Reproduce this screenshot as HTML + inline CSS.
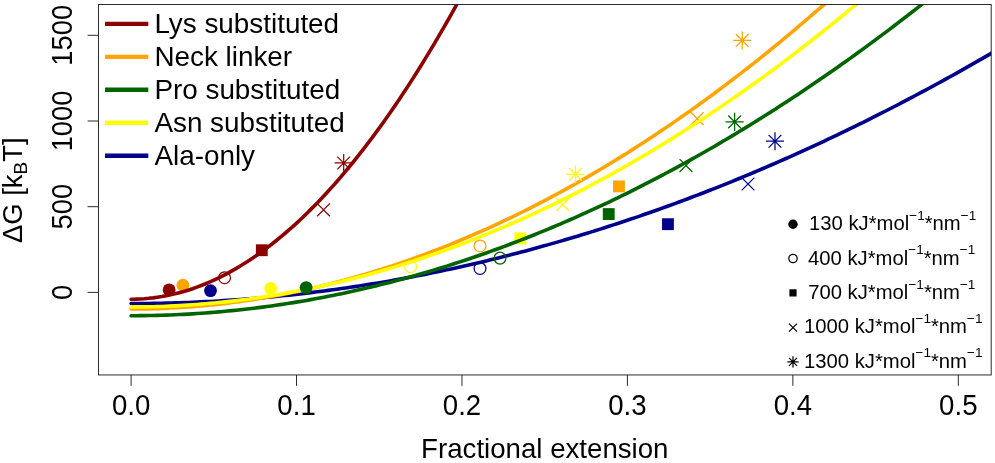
<!DOCTYPE html>
<html><head><meta charset="utf-8"><title>Chart</title>
<style>
html,body{margin:0;padding:0;background:#fff;}
svg{display:block;}
text{font-family:"Liberation Sans",sans-serif;fill:#000;}
.t{opacity:0.999;}
</style></head>
<body>
<svg width="995" height="463" viewBox="0 0 995 463">
<rect width="995" height="463" fill="#fff"/>
<defs><clipPath id="clip"><rect x="98.5" y="4.5" width="892.7" height="370.45"/></clipPath></defs>
<g clip-path="url(#clip)">
<circle cx="210.51" cy="290.60" r="6.4" fill="#00008B"/>
<circle cx="480.01" cy="268.40" r="5.9" fill="none" stroke="#00008B" stroke-width="1.25"/>
<rect x="662.03" y="218.26" width="11.84" height="11.84" fill="#00008B"/>
<path d="M741.63,177.59L754.43,190.39M741.63,190.39L754.43,177.59" stroke="#00008B" stroke-width="1.25" fill="none"/>
<path d="M768.59,134.83L781.39,147.63M768.59,147.63L781.39,134.83M765.94,141.23L784.04,141.23M774.99,132.18L774.99,150.27" stroke="#00008B" stroke-width="1.25" fill="none"/>
<path d="M131.10,303.54 L135.48,303.53 L139.87,303.52 L144.25,303.48 L148.64,303.44 L153.02,303.38 L157.40,303.31 L161.79,303.22 L166.17,303.13 L170.56,303.01 L174.94,302.89 L179.33,302.75 L183.71,302.61 L188.09,302.44 L192.48,302.27 L196.86,302.08 L201.25,301.88 L205.63,301.66 L210.01,301.44 L214.40,301.19 L218.78,300.94 L223.17,300.67 L227.55,300.40 L231.94,300.10 L236.32,299.80 L240.70,299.48 L245.09,299.15 L249.47,298.80 L253.86,298.45 L258.24,298.07 L262.62,297.69 L267.01,297.29 L271.39,296.89 L275.78,296.46 L280.16,296.03 L284.55,295.58 L288.93,295.12 L293.31,294.64 L297.70,294.16 L302.08,293.65 L306.47,293.14 L310.85,292.61 L315.23,292.08 L319.62,291.52 L324.00,290.96 L328.39,290.38 L332.77,289.79 L337.16,289.18 L341.54,288.57 L345.92,287.94 L350.31,287.29 L354.69,286.64 L359.08,285.97 L363.46,285.28 L367.84,284.59 L372.23,283.88 L376.61,283.16 L381.00,282.42 L385.38,281.68 L389.77,280.92 L394.15,280.14 L398.53,279.36 L402.92,278.56 L407.30,277.74 L411.69,276.92 L416.07,276.08 L420.45,275.23 L424.84,274.36 L429.22,273.49 L433.61,272.60 L437.99,271.69 L442.38,270.78 L446.76,269.85 L451.14,268.90 L455.53,267.95 L459.91,266.98 L464.30,266.00 L468.68,265.00 L473.06,264.00 L477.45,262.98 L481.83,261.94 L486.22,260.90 L490.60,259.84 L494.99,258.76 L499.37,257.68 L503.75,256.58 L508.14,255.47 L512.52,254.34 L516.91,253.21 L521.29,252.06 L525.67,250.89 L530.06,249.72 L534.44,248.53 L538.83,247.32 L543.21,246.11 L547.60,244.88 L551.98,243.64 L556.36,242.38 L560.75,241.12 L565.13,239.84 L569.52,238.54 L573.90,237.24 L578.28,235.92 L582.67,234.59 L587.05,233.24 L591.44,231.88 L595.82,230.51 L600.21,229.13 L604.59,227.73 L608.97,226.32 L613.36,224.89 L617.74,223.46 L622.13,222.01 L626.51,220.55 L630.89,219.07 L635.28,217.58 L639.66,216.08 L644.05,214.57 L648.43,213.04 L652.82,211.50 L657.20,209.94 L661.58,208.38 L665.97,206.80 L670.35,205.21 L674.74,203.60 L679.12,201.98 L683.50,200.35 L687.89,198.71 L692.27,197.05 L696.66,195.38 L701.04,193.70 L705.42,192.00 L709.81,190.29 L714.19,188.57 L718.58,186.83 L722.96,185.08 L727.35,183.32 L731.73,181.55 L736.11,179.76 L740.50,177.96 L744.88,176.15 L749.27,174.32 L753.65,172.48 L758.03,170.63 L762.42,168.76 L766.80,166.88 L771.19,164.99 L775.57,163.09 L779.96,161.17 L784.34,159.24 L788.72,157.30 L793.11,155.34 L797.49,153.37 L801.88,151.39 L806.26,149.39 L810.64,147.38 L815.03,145.36 L819.41,143.33 L823.80,141.28 L828.18,139.22 L832.57,137.15 L836.95,135.06 L841.33,132.96 L845.72,130.85 L850.10,128.72 L854.49,126.59 L858.87,124.43 L863.25,122.27 L867.64,120.09 L872.02,117.90 L876.41,115.70 L880.79,113.48 L885.18,111.25 L889.56,109.01 L893.94,106.75 L898.33,104.49 L902.71,102.20 L907.10,99.91 L911.48,97.60 L915.86,95.28 L920.25,92.95 L924.63,90.60 L929.02,88.24 L933.40,85.87 L937.79,83.49 L942.17,81.09 L946.55,78.68 L950.94,76.25 L955.32,73.81 L959.71,71.36 L964.09,68.90 L968.47,66.42 L972.86,63.93 L977.24,61.43 L981.63,58.92 L986.01,56.39 L990.40,53.85 L994.78,51.29 L999.16,48.72 L1003.55,46.14 L1007.93,43.55" fill="none" stroke="#00008B" stroke-width="3.6" stroke-linecap="round" stroke-linejoin="round"/>
<circle cx="182.88" cy="285.20" r="6.4" fill="#FFA500"/>
<circle cx="480.01" cy="245.95" r="5.9" fill="none" stroke="#FFA500" stroke-width="1.25"/>
<rect x="613.06" y="180.47" width="11.84" height="11.84" fill="#FFA500"/>
<path d="M690.84,112.20L703.64,125.00M690.84,125.00L703.64,112.20" stroke="#FFA500" stroke-width="1.25" fill="none"/>
<path d="M735.84,34.04L748.64,46.84M735.84,46.84L748.64,34.04M733.19,40.44L751.28,40.44M742.24,31.39L742.24,49.49" stroke="#FFA500" stroke-width="1.25" fill="none"/>
<path d="M131.10,309.03 L135.48,309.01 L139.87,308.98 L144.25,308.92 L148.64,308.83 L153.02,308.72 L157.40,308.59 L161.79,308.43 L166.17,308.25 L170.56,308.04 L174.94,307.81 L179.33,307.55 L183.71,307.27 L188.09,306.97 L192.48,306.64 L196.86,306.28 L201.25,305.91 L205.63,305.50 L210.01,305.08 L214.40,304.63 L218.78,304.15 L223.17,303.65 L227.55,303.13 L231.94,302.58 L236.32,302.01 L240.70,301.41 L245.09,300.79 L249.47,300.14 L253.86,299.47 L258.24,298.78 L262.62,298.06 L267.01,297.31 L271.39,296.55 L275.78,295.75 L280.16,294.94 L284.55,294.10 L288.93,293.23 L293.31,292.34 L297.70,291.43 L302.08,290.49 L306.47,289.53 L310.85,288.54 L315.23,287.53 L319.62,286.49 L324.00,285.43 L328.39,284.35 L332.77,283.24 L337.16,282.10 L341.54,280.95 L345.92,279.76 L350.31,278.56 L354.69,277.33 L359.08,276.07 L363.46,274.79 L367.84,273.49 L372.23,272.16 L376.61,270.81 L381.00,269.43 L385.38,268.03 L389.77,266.60 L394.15,265.15 L398.53,263.68 L402.92,262.18 L407.30,260.66 L411.69,259.11 L416.07,257.54 L420.45,255.94 L424.84,254.32 L429.22,252.67 L433.61,251.00 L437.99,249.31 L442.38,247.59 L446.76,245.85 L451.14,244.08 L455.53,242.29 L459.91,240.47 L464.30,238.63 L468.68,236.77 L473.06,234.88 L477.45,232.97 L481.83,231.03 L486.22,229.07 L490.60,227.08 L494.99,225.07 L499.37,223.03 L503.75,220.97 L508.14,218.89 L512.52,216.78 L516.91,214.65 L521.29,212.49 L525.67,210.31 L530.06,208.11 L534.44,205.87 L538.83,203.62 L543.21,201.34 L547.60,199.04 L551.98,196.71 L556.36,194.36 L560.75,191.98 L565.13,189.58 L569.52,187.16 L573.90,184.71 L578.28,182.23 L582.67,179.73 L587.05,177.21 L591.44,174.66 L595.82,172.09 L600.21,169.50 L604.59,166.88 L608.97,164.23 L613.36,161.56 L617.74,158.87 L622.13,156.15 L626.51,153.41 L630.89,150.64 L635.28,147.85 L639.66,145.04 L644.05,142.20 L648.43,139.33 L652.82,136.45 L657.20,133.53 L661.58,130.60 L665.97,127.63 L670.35,124.65 L674.74,121.64 L679.12,118.60 L683.50,115.54 L687.89,112.46 L692.27,109.35 L696.66,106.22 L701.04,103.07 L705.42,99.88 L709.81,96.68 L714.19,93.45 L718.58,90.20 L722.96,86.92 L727.35,83.61 L731.73,80.29 L736.11,76.94 L740.50,73.56 L744.88,70.16 L749.27,66.74 L753.65,63.29 L758.03,59.81 L762.42,56.32 L766.80,52.79 L771.19,49.25 L775.57,45.68 L779.96,42.08 L784.34,38.46 L788.72,34.82 L793.11,31.15 L797.49,27.46 L801.88,23.74 L806.26,20.00 L810.64,16.23 L815.03,12.44 L819.41,8.63 L823.80,4.79 L828.18,0.93 L832.57,-2.96 L836.95,-6.87 L841.33,-10.81 L845.72,-14.77 L850.10,-18.76 L854.49,-22.77 L858.87,-26.80 L863.25,-30.86 L867.64,-34.94 L872.02,-39.05 L876.41,-43.18 L880.79,-47.33 L885.18,-51.52 L889.56,-55.72 L893.94,-59.95 L898.33,-64.20 L902.71,-68.48 L907.10,-72.78 L911.48,-77.11 L915.86,-81.46 L920.25,-85.83 L924.63,-90.23 L929.02,-94.66 L933.40,-99.11 L937.79,-103.58 L942.17,-108.08 L946.55,-112.60 L950.94,-117.14 L955.32,-121.71 L959.71,-126.31 L964.09,-130.93 L968.47,-135.57 L972.86,-140.24 L977.24,-144.93 L981.63,-149.64 L986.01,-154.39 L990.40,-159.15 L994.78,-163.94 L999.16,-168.75 L1003.55,-173.59 L1007.93,-178.46" fill="none" stroke="#FFA500" stroke-width="3.6" stroke-linecap="round" stroke-linejoin="round"/>
<circle cx="270.73" cy="288.46" r="6.4" fill="#FFFF00"/>
<circle cx="410.69" cy="266.69" r="5.9" fill="none" stroke="#FFFF00" stroke-width="1.25"/>
<rect x="514.46" y="232.49" width="11.84" height="11.84" fill="#FFFF00"/>
<path d="M556.33,198.24L569.13,211.04M556.33,211.04L569.13,198.24" stroke="#FFFF00" stroke-width="1.25" fill="none"/>
<path d="M569.07,167.91L581.87,180.71M569.07,180.71L581.87,167.91M566.42,174.31L584.52,174.31M575.47,165.26L575.47,183.35" stroke="#FFFF00" stroke-width="1.25" fill="none"/>
<path d="M131.10,306.97 L135.48,306.96 L139.87,306.92 L144.25,306.87 L148.64,306.79 L153.02,306.69 L157.40,306.57 L161.79,306.43 L166.17,306.26 L170.56,306.07 L174.94,305.86 L179.33,305.63 L183.71,305.38 L188.09,305.10 L192.48,304.80 L196.86,304.48 L201.25,304.14 L205.63,303.77 L210.01,303.39 L214.40,302.98 L218.78,302.54 L223.17,302.09 L227.55,301.62 L231.94,301.12 L236.32,300.60 L240.70,300.06 L245.09,299.49 L249.47,298.91 L253.86,298.30 L258.24,297.67 L262.62,297.01 L267.01,296.34 L271.39,295.64 L275.78,294.92 L280.16,294.18 L284.55,293.42 L288.93,292.63 L293.31,291.83 L297.70,291.00 L302.08,290.14 L306.47,289.27 L310.85,288.37 L315.23,287.46 L319.62,286.52 L324.00,285.55 L328.39,284.57 L332.77,283.56 L337.16,282.53 L341.54,281.48 L345.92,280.41 L350.31,279.31 L354.69,278.20 L359.08,277.06 L363.46,275.90 L367.84,274.71 L372.23,273.51 L376.61,272.28 L381.00,271.03 L385.38,269.76 L389.77,268.46 L394.15,267.15 L398.53,265.81 L402.92,264.45 L407.30,263.07 L411.69,261.66 L416.07,260.23 L420.45,258.78 L424.84,257.31 L429.22,255.82 L433.61,254.30 L437.99,252.77 L442.38,251.21 L446.76,249.63 L451.14,248.02 L455.53,246.40 L459.91,244.75 L464.30,243.08 L468.68,241.38 L473.06,239.67 L477.45,237.93 L481.83,236.17 L486.22,234.39 L490.60,232.59 L494.99,230.77 L499.37,228.92 L503.75,227.05 L508.14,225.16 L512.52,223.24 L516.91,221.31 L521.29,219.35 L525.67,217.37 L530.06,215.37 L534.44,213.34 L538.83,211.30 L543.21,209.23 L547.60,207.14 L551.98,205.03 L556.36,202.89 L560.75,200.73 L565.13,198.55 L569.52,196.35 L573.90,194.13 L578.28,191.88 L582.67,189.62 L587.05,187.33 L591.44,185.01 L595.82,182.68 L600.21,180.32 L604.59,177.95 L608.97,175.55 L613.36,173.12 L617.74,170.68 L622.13,168.21 L626.51,165.72 L630.89,163.21 L635.28,160.68 L639.66,158.12 L644.05,155.55 L648.43,152.95 L652.82,150.33 L657.20,147.68 L661.58,145.02 L665.97,142.33 L670.35,139.62 L674.74,136.89 L679.12,134.13 L683.50,131.35 L687.89,128.56 L692.27,125.74 L696.66,122.89 L701.04,120.03 L705.42,117.14 L709.81,114.23 L714.19,111.30 L718.58,108.35 L722.96,105.37 L727.35,102.37 L731.73,99.35 L736.11,96.31 L740.50,93.25 L744.88,90.16 L749.27,87.05 L753.65,83.92 L758.03,80.77 L762.42,77.60 L766.80,74.40 L771.19,71.18 L775.57,67.94 L779.96,64.68 L784.34,61.39 L788.72,58.08 L793.11,54.75 L797.49,51.40 L801.88,48.03 L806.26,44.63 L810.64,41.21 L815.03,37.77 L819.41,34.31 L823.80,30.83 L828.18,27.32 L832.57,23.79 L836.95,20.24 L841.33,16.67 L845.72,13.07 L850.10,9.46 L854.49,5.82 L858.87,2.16 L863.25,-1.53 L867.64,-5.23 L872.02,-8.96 L876.41,-12.71 L880.79,-16.48 L885.18,-20.28 L889.56,-24.09 L893.94,-27.93 L898.33,-31.79 L902.71,-35.68 L907.10,-39.58 L911.48,-43.51 L915.86,-47.46 L920.25,-51.43 L924.63,-55.42 L929.02,-59.44 L933.40,-63.47 L937.79,-67.53 L942.17,-71.61 L946.55,-75.72 L950.94,-79.84 L955.32,-83.99 L959.71,-88.16 L964.09,-92.35 L968.47,-96.57 L972.86,-100.81 L977.24,-105.06 L981.63,-109.35 L986.01,-113.65 L990.40,-117.97 L994.78,-122.32 L999.16,-126.69 L1003.55,-131.08 L1007.93,-135.50" fill="none" stroke="#FFFF00" stroke-width="3.6" stroke-linecap="round" stroke-linejoin="round"/>
<circle cx="169.15" cy="289.90" r="6.4" fill="#8B0000"/>
<circle cx="224.57" cy="277.66" r="5.9" fill="none" stroke="#8B0000" stroke-width="1.25"/>
<rect x="255.88" y="244.32" width="11.84" height="11.84" fill="#8B0000"/>
<path d="M317.11,203.39L329.91,216.19M317.11,216.19L329.91,203.39" stroke="#8B0000" stroke-width="1.25" fill="none"/>
<path d="M337.29,156.59L350.09,169.39M337.29,169.39L350.09,156.59M334.64,162.99L352.74,162.99M343.69,153.94L343.69,172.04" stroke="#8B0000" stroke-width="1.25" fill="none"/>
<path d="M131.10,299.19 L135.48,299.13 L139.87,298.97 L144.25,298.71 L148.64,298.33 L153.02,297.85 L157.40,297.26 L161.79,296.57 L166.17,295.77 L170.56,294.86 L174.94,293.85 L179.33,292.72 L183.71,291.50 L188.09,290.16 L192.48,288.72 L196.86,287.17 L201.25,285.51 L205.63,283.75 L210.01,281.88 L214.40,279.90 L218.78,277.82 L223.17,275.63 L227.55,273.33 L231.94,270.93 L236.32,268.42 L240.70,265.80 L245.09,263.08 L249.47,260.25 L253.86,257.31 L258.24,254.26 L262.62,251.11 L267.01,247.85 L271.39,244.49 L275.78,241.01 L280.16,237.44 L284.55,233.75 L288.93,229.96 L293.31,226.06 L297.70,222.05 L302.08,217.94 L306.47,213.72 L310.85,209.39 L315.23,204.96 L319.62,200.42 L324.00,195.77 L328.39,191.02 L332.77,186.15 L337.16,181.19 L341.54,176.11 L345.92,170.93 L350.31,165.64 L354.69,160.25 L359.08,154.74 L363.46,149.14 L367.84,143.42 L372.23,137.60 L376.61,131.67 L381.00,125.63 L385.38,119.49 L389.77,113.24 L394.15,106.88 L398.53,100.42 L402.92,93.85 L407.30,87.17 L411.69,80.39 L416.07,73.50 L420.45,66.50 L424.84,59.39 L429.22,52.18 L433.61,44.86 L437.99,37.44 L442.38,29.91 L446.76,22.27 L451.14,14.52 L455.53,6.67 L459.91,-1.29 L464.30,-9.36 L468.68,-17.53 L473.06,-25.81 L477.45,-34.20 L481.83,-42.69 L486.22,-51.29 L490.60,-60.00 L494.99,-68.81 L499.37,-77.73 L503.75,-86.76 L508.14,-95.89 L512.52,-105.14 L516.91,-114.48 L521.29,-123.94 L525.67,-133.50 L530.06,-143.17 L534.44,-152.94 L538.83,-162.83 L543.21,-172.82 L547.60,-182.91 L551.98,-193.12 L556.36,-203.43 L560.75,-213.84 L565.13,-224.37 L569.52,-235.00 L573.90,-245.73 L578.28,-256.58 L582.67,-267.53 L587.05,-278.58 L591.44,-289.75 L595.82,-301.02 L600.21,-312.40 L604.59,-323.88 L608.97,-335.48 L613.36,-347.17 L617.74,-358.98 L622.13,-370.89 L626.51,-382.91 L630.89,-395.04 L635.28,-407.27 L639.66,-419.61 L644.05,-432.06 L648.43,-444.61 L652.82,-457.27 L657.20,-470.04 L661.58,-482.91 L665.97,-495.89 L670.35,-508.98 L674.74,-522.17 L679.12,-535.47 L683.50,-548.88 L687.89,-562.40 L692.27,-576.02 L696.66,-589.75 L701.04,-603.58 L705.42,-617.52 L709.81,-631.57 L714.19,-645.73 L718.58,-659.99 L722.96,-674.36 L727.35,-688.84 L731.73,-703.42 L736.11,-718.11 L740.50,-732.91 L744.88,-747.81 L749.27,-762.82 L753.65,-777.94 L758.03,-793.16 L762.42,-808.49 L766.80,-823.93 L771.19,-839.48 L775.57,-855.13 L779.96,-870.89 L784.34,-886.75 L788.72,-902.72 L793.11,-918.80 L797.49,-934.99 L801.88,-951.28 L806.26,-967.68 L810.64,-984.19 L815.03,-1000.80 L819.41,-1017.52 L823.80,-1034.35 L828.18,-1051.28 L832.57,-1068.32 L836.95,-1085.47 L841.33,-1102.72 L845.72,-1120.08 L850.10,-1137.55 L854.49,-1155.13 L858.87,-1172.81 L863.25,-1190.59 L867.64,-1208.49 L872.02,-1226.49 L876.41,-1244.60 L880.79,-1262.82 L885.18,-1281.14 L889.56,-1299.57 L893.94,-1318.10 L898.33,-1336.75 L902.71,-1355.50 L907.10,-1374.35 L911.48,-1393.32 L915.86,-1412.39 L920.25,-1431.56 L924.63,-1450.85 L929.02,-1470.24 L933.40,-1489.74 L937.79,-1509.34 L942.17,-1529.05 L946.55,-1548.87 L950.94,-1568.80 L955.32,-1588.83 L959.71,-1608.97 L964.09,-1629.21 L968.47,-1649.56 L972.86,-1670.02 L977.24,-1690.59 L981.63,-1711.26 L986.01,-1732.04 L990.40,-1752.93 L994.78,-1773.92 L999.16,-1795.02 L1003.55,-1816.23 L1007.93,-1837.54" fill="none" stroke="#8B0000" stroke-width="3.6" stroke-linecap="round" stroke-linejoin="round"/>
<circle cx="306.14" cy="287.60" r="6.4" fill="#006400"/>
<circle cx="500.03" cy="258.12" r="5.9" fill="none" stroke="#006400" stroke-width="1.25"/>
<rect x="602.81" y="208.15" width="11.84" height="11.84" fill="#006400"/>
<path d="M679.59,159.16L692.39,171.96M679.59,171.96L692.39,159.16" stroke="#006400" stroke-width="1.25" fill="none"/>
<path d="M728.23,115.46L741.03,128.26M728.23,128.26L741.03,115.46M725.58,121.86L743.67,121.86M734.63,112.81L734.63,130.91" stroke="#006400" stroke-width="1.25" fill="none"/>
<path d="M131.10,315.71 L135.48,315.70 L139.87,315.67 L144.25,315.62 L148.64,315.56 L153.02,315.47 L157.40,315.37 L161.79,315.24 L166.17,315.10 L170.56,314.94 L174.94,314.75 L179.33,314.55 L183.71,314.33 L188.09,314.09 L192.48,313.83 L196.86,313.56 L201.25,313.26 L205.63,312.94 L210.01,312.61 L214.40,312.26 L218.78,311.88 L223.17,311.49 L227.55,311.08 L231.94,310.65 L236.32,310.20 L240.70,309.73 L245.09,309.24 L249.47,308.73 L253.86,308.21 L258.24,307.66 L262.62,307.10 L267.01,306.51 L271.39,305.91 L275.78,305.29 L280.16,304.65 L284.55,303.99 L288.93,303.31 L293.31,302.61 L297.70,301.89 L302.08,301.16 L306.47,300.40 L310.85,299.62 L315.23,298.83 L319.62,298.02 L324.00,297.18 L328.39,296.33 L332.77,295.46 L337.16,294.57 L341.54,293.66 L345.92,292.74 L350.31,291.79 L354.69,290.82 L359.08,289.84 L363.46,288.83 L367.84,287.81 L372.23,286.76 L376.61,285.70 L381.00,284.62 L385.38,283.52 L389.77,282.40 L394.15,281.26 L398.53,280.10 L402.92,278.93 L407.30,277.73 L411.69,276.52 L416.07,275.28 L420.45,274.03 L424.84,272.75 L429.22,271.46 L433.61,270.15 L437.99,268.82 L442.38,267.47 L446.76,266.10 L451.14,264.72 L455.53,263.31 L459.91,261.88 L464.30,260.44 L468.68,258.98 L473.06,257.49 L477.45,255.99 L481.83,254.47 L486.22,252.93 L490.60,251.37 L494.99,249.79 L499.37,248.19 L503.75,246.57 L508.14,244.94 L512.52,243.28 L516.91,241.61 L521.29,239.91 L525.67,238.20 L530.06,236.47 L534.44,234.72 L538.83,232.95 L543.21,231.16 L547.60,229.35 L551.98,227.52 L556.36,225.68 L560.75,223.81 L565.13,221.92 L569.52,220.02 L573.90,218.10 L578.28,216.15 L582.67,214.19 L587.05,212.21 L591.44,210.21 L595.82,208.19 L600.21,206.15 L604.59,204.10 L608.97,202.02 L613.36,199.92 L617.74,197.81 L622.13,195.68 L626.51,193.52 L630.89,191.35 L635.28,189.16 L639.66,186.95 L644.05,184.72 L648.43,182.47 L652.82,180.20 L657.20,177.92 L661.58,175.61 L665.97,173.28 L670.35,170.94 L674.74,168.58 L679.12,166.19 L683.50,163.79 L687.89,161.37 L692.27,158.93 L696.66,156.47 L701.04,153.99 L705.42,151.50 L709.81,148.98 L714.19,146.44 L718.58,143.89 L722.96,141.31 L727.35,138.72 L731.73,136.11 L736.11,133.48 L740.50,130.83 L744.88,128.16 L749.27,125.47 L753.65,122.76 L758.03,120.03 L762.42,117.29 L766.80,114.52 L771.19,111.74 L775.57,108.93 L779.96,106.11 L784.34,103.27 L788.72,100.41 L793.11,97.53 L797.49,94.63 L801.88,91.71 L806.26,88.77 L810.64,85.81 L815.03,82.84 L819.41,79.84 L823.80,76.83 L828.18,73.79 L832.57,70.74 L836.95,67.67 L841.33,64.58 L845.72,61.47 L850.10,58.34 L854.49,55.19 L858.87,52.03 L863.25,48.84 L867.64,45.63 L872.02,42.41 L876.41,39.16 L880.79,35.90 L885.18,32.62 L889.56,29.32 L893.94,26.00 L898.33,22.66 L902.71,19.30 L907.10,15.92 L911.48,12.52 L915.86,9.11 L920.25,5.67 L924.63,2.22 L929.02,-1.26 L933.40,-4.75 L937.79,-8.26 L942.17,-11.79 L946.55,-15.34 L950.94,-18.91 L955.32,-22.50 L959.71,-26.11 L964.09,-29.73 L968.47,-33.38 L972.86,-37.04 L977.24,-40.73 L981.63,-44.43 L986.01,-48.15 L990.40,-51.89 L994.78,-55.66 L999.16,-59.44 L1003.55,-63.23 L1007.93,-67.05" fill="none" stroke="#006400" stroke-width="3.6" stroke-linecap="round" stroke-linejoin="round"/>
</g>
<g class="t">
<rect x="98.5" y="4.5" width="892.7" height="370.45" fill="none" stroke="#2b2b2b" stroke-width="1"/>
<line x1="131.10" y1="374.95" x2="131.10" y2="385.84999999999997" stroke="#2b2b2b" stroke-width="1"/>
<text transform="translate(131.10,415) scale(1,1.07)" font-size="27.6" text-anchor="middle">0.0</text>
<line x1="296.54" y1="374.95" x2="296.54" y2="385.84999999999997" stroke="#2b2b2b" stroke-width="1"/>
<text transform="translate(296.54,415) scale(1,1.07)" font-size="27.6" text-anchor="middle">0.1</text>
<line x1="461.98" y1="374.95" x2="461.98" y2="385.84999999999997" stroke="#2b2b2b" stroke-width="1"/>
<text transform="translate(461.98,415) scale(1,1.07)" font-size="27.6" text-anchor="middle">0.2</text>
<line x1="627.42" y1="374.95" x2="627.42" y2="385.84999999999997" stroke="#2b2b2b" stroke-width="1"/>
<text transform="translate(627.42,415) scale(1,1.07)" font-size="27.6" text-anchor="middle">0.3</text>
<line x1="792.86" y1="374.95" x2="792.86" y2="385.84999999999997" stroke="#2b2b2b" stroke-width="1"/>
<text transform="translate(792.86,415) scale(1,1.07)" font-size="27.6" text-anchor="middle">0.4</text>
<line x1="958.30" y1="374.95" x2="958.30" y2="385.84999999999997" stroke="#2b2b2b" stroke-width="1"/>
<text transform="translate(958.30,415) scale(1,1.07)" font-size="27.6" text-anchor="middle">0.5</text>
<line x1="87.6" y1="292.40" x2="98.5" y2="292.40" stroke="#2b2b2b" stroke-width="1"/>
<text transform="translate(72.4,292.40) rotate(-90) scale(1,1.07)" font-size="27.3" text-anchor="middle">0</text>
<line x1="87.6" y1="206.70" x2="98.5" y2="206.70" stroke="#2b2b2b" stroke-width="1"/>
<text transform="translate(72.4,206.70) rotate(-90) scale(1,1.07)" font-size="27.3" text-anchor="middle">500</text>
<line x1="87.6" y1="121.00" x2="98.5" y2="121.00" stroke="#2b2b2b" stroke-width="1"/>
<text transform="translate(72.4,121.00) rotate(-90) scale(1,1.07)" font-size="27.3" text-anchor="middle">1000</text>
<line x1="87.6" y1="35.30" x2="98.5" y2="35.30" stroke="#2b2b2b" stroke-width="1"/>
<text transform="translate(72.4,35.30) rotate(-90) scale(1,1.07)" font-size="27.3" text-anchor="middle">1500</text>
<text x="544.8" y="457.9" font-size="27.65" text-anchor="middle">Fractional extension</text>
<text transform="translate(22.1,190.2) rotate(-90)" font-size="27.4" text-anchor="middle">ΔG [k<tspan font-size="19" dy="4.6">B</tspan><tspan dy="-4.6">T]</tspan></text>
<line x1="105" y1="23.90" x2="148.3" y2="23.90" stroke="#8B0000" stroke-width="4.4"/>
<text x="154.4" y="33.30" font-size="27.85">Lys substituted</text>
<line x1="105" y1="56.85" x2="148.3" y2="56.85" stroke="#FFA500" stroke-width="4.4"/>
<text x="154.4" y="66.30" font-size="27.85">Neck linker</text>
<line x1="105" y1="89.80" x2="148.3" y2="89.80" stroke="#006400" stroke-width="4.4"/>
<text x="154.4" y="99.30" font-size="27.85">Pro substituted</text>
<line x1="105" y1="122.75" x2="148.3" y2="122.75" stroke="#FFFF00" stroke-width="4.4"/>
<text x="154.4" y="132.30" font-size="27.85">Asn substituted</text>
<line x1="105" y1="155.70" x2="148.3" y2="155.70" stroke="#00008B" stroke-width="4.4"/>
<text x="154.4" y="165.30" font-size="27.85">Ala-only</text>
<circle cx="793.00" cy="224.20" r="4.7" fill="#000"/>
<text x="809.0" y="230.30" font-size="20.25">130 kJ*mol<tspan font-size="13.6" dy="-10.3">−1</tspan><tspan dy="10.3">*nm</tspan><tspan font-size="13.6" dy="-10.3">−1</tspan></text>
<circle cx="793.00" cy="258.50" r="4.2" fill="none" stroke="#000" stroke-width="1.25"/>
<text x="808.0" y="264.60" font-size="20.25">400 kJ*mol<tspan font-size="13.6" dy="-10.3">−1</tspan><tspan dy="10.3">*nm</tspan><tspan font-size="13.6" dy="-10.3">−1</tspan></text>
<rect x="789.39" y="289.29" width="7.21" height="7.21" fill="#000"/>
<text x="808.2" y="298.90" font-size="20.25">700 kJ*mol<tspan font-size="13.6" dy="-10.3">−1</tspan><tspan dy="10.3">*nm</tspan><tspan font-size="13.6" dy="-10.3">−1</tspan></text>
<path d="M789.00,323.60L797.00,331.60M789.00,331.60L797.00,323.60" stroke="#000" stroke-width="1.25" fill="none"/>
<text x="804.0" y="333.20" font-size="20.25">1000 kJ*mol<tspan font-size="13.6" dy="-10.3">−1</tspan><tspan dy="10.3">*nm</tspan><tspan font-size="13.6" dy="-10.3">−1</tspan></text>
<path d="M789.00,357.90L797.00,365.90M789.00,365.90L797.00,357.90M787.34,361.90L798.66,361.90M793.00,356.24L793.00,367.56" stroke="#000" stroke-width="1.25" fill="none"/>
<text x="804.0" y="367.50" font-size="20.25">1300 kJ*mol<tspan font-size="13.6" dy="-10.3">−1</tspan><tspan dy="10.3">*nm</tspan><tspan font-size="13.6" dy="-10.3">−1</tspan></text>
</g>
</svg>
</body></html>
